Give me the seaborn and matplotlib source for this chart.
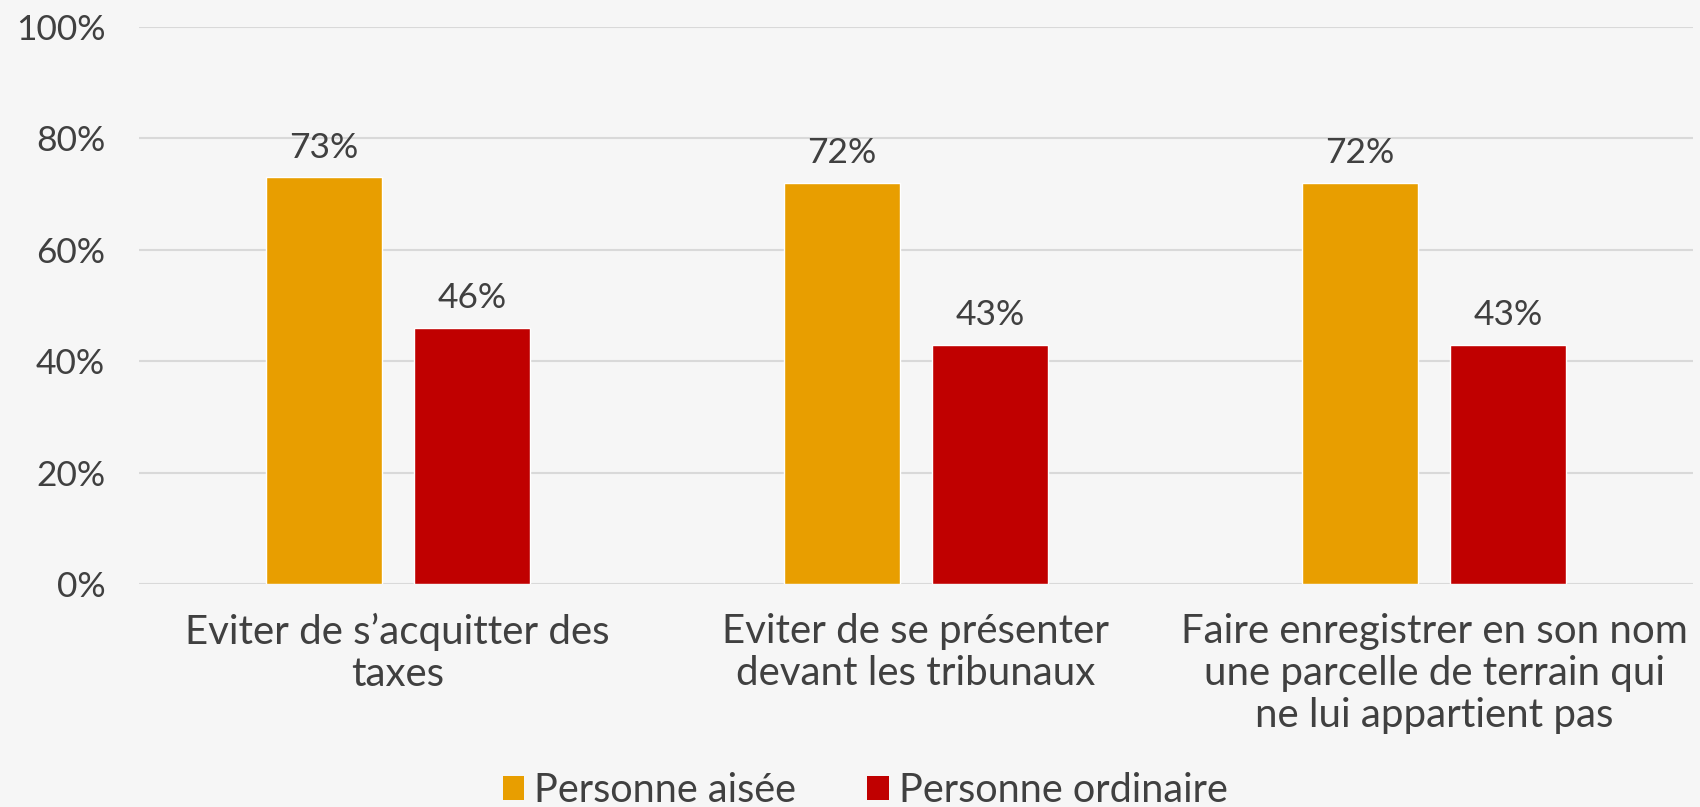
import matplotlib
matplotlib.use("Agg")
import matplotlib.pyplot as plt
import seaborn as sns
import pandas as pd
from matplotlib.patches import Patch

categories = ["Eviter de s\u2019acquitter des\ntaxes",
              "Eviter de se pr\u00e9senter\ndevant les tribunaux",
              "Faire enregistrer en son nom\nune parcelle de terrain qui\nne lui appartient pas"]
series = ["Personne ais\u00e9e", "Personne ordinaire"]
aisee = [73, 72, 72]
ordinaire = [46, 43, 43]
yticks = [0, 20, 40, 60, 80, 100]
colors = ["#E89E00", "#C00000"]

rows = []
for c, a, o in zip(categories, aisee, ordinaire):
    rows.append({"cat": c, "serie": series[0], "val": a})
    rows.append({"cat": c, "serie": series[1], "val": o})
df = pd.DataFrame(rows)

sns.set_theme(style="white")
plt.rcParams["font.family"] = ["Lato", "DejaVu Sans"]
text_color = "#404040"
bg = "#f6f6f6"

fig = plt.figure(figsize=(17, 8.07), dpi=100, facecolor=bg)
ax = fig.add_axes([0.0815, 0.2763, 0.9145, 0.6902])
ax.set_facecolor(bg)

sns.barplot(data=df, x="cat", y="val", hue="serie", palette=colors,
            width=0.572, gap=0.217, ax=ax, legend=False, saturation=1,
            zorder=3)

ax.set_ylim(0, 100)
ax.set_xlim(-0.5, 2.5)
ax.set_yticks(yticks)
ax.set_yticklabels([f"{t}%" for t in yticks])
ax.yaxis.grid(True, color="#d9d9d9", linewidth=1.5, zorder=0)
ax.xaxis.grid(False)
for s in ax.spines.values():
    s.set_visible(False)
ax.set_xlabel("")
ax.set_ylabel("")
ax.tick_params(axis="y", length=0, pad=24, labelsize=25.5, labelcolor=text_color)
ax.tick_params(axis="x", length=0, pad=21, labelsize=29, labelcolor=text_color)
for lbl in ax.get_xticklabels():
    lbl.set_linespacing(1.17)

for cont in ax.containers:
    ax.bar_label(cont, labels=[f"{v:.0f}%" for v in cont.datavalues],
                 padding=10, fontsize=25.5, color=text_color)

handles = [Patch(facecolor=colors[i], edgecolor="none") for i in range(2)]
fig.legend(handles, series, loc="center", bbox_to_anchor=(0.509, 0.02),
           ncol=2, frameon=False, labelcolor=text_color,
           handlelength=0.55, handleheight=0.55, handletextpad=0.25,
           columnspacing=1.8, prop={"size": 28.5})

fig.savefig("out.png", dpi=100, facecolor=bg)
